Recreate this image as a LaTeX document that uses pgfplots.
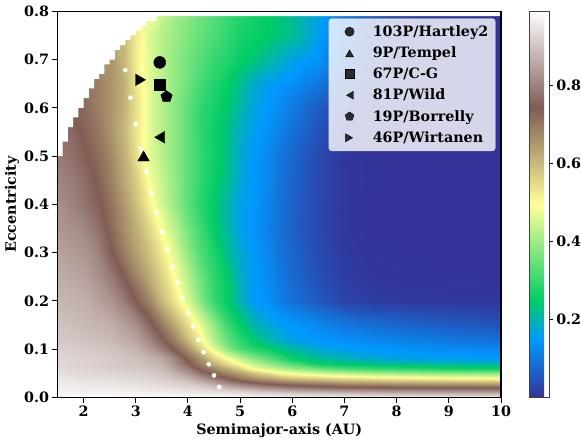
\documentclass[border=0pt]{standalone}
\usepackage{fontspec}
\setmainfont{DejaVu Serif}
\usepackage{pgfplots}
\pgfplotsset{compat=1.18}
\newcommand\lbl{\bfseries\fontsize{14.3}{16.5}\selectfont}
\pgfplotsset{cmark/.style={only marks, legend image code/.code={\path (-15.5pt,0pt) (8pt,0pt); \draw[##1] plot coordinates {(0pt,0pt)};}}}
\begin{document}
\begin{tikzpicture}
\path[use as bounding box] (-57.5pt,-45.4pt) rectangle (523.5pt,397.6pt);
\begin{axis}[
  at={(0pt,0pt)}, anchor=south west,
  scale only axis, width=443.5pt, height=386.4pt,
  xmin=1.5, xmax=10, ymin=0, ymax=0.8,
  xtick={2,3,4,5,6,7,8,9,10},
  ytick={0,0.1,0.2,0.3,0.4,0.5,0.6,0.7,0.8},
  yticklabel style={/pgf/number format/fixed,/pgf/number format/fixed zerofill,/pgf/number format/precision=1},
  every tick label/.append style={font=\lbl},
  /pgf/number format/assume math mode=true,
  tick align=outside, xtick pos=bottom, ytick pos=left,
  major tick length=5pt,
  tick style={black, line width=1pt},
  axis line style={black, line width=1.1pt},
  axis on top,
  xlabel={Semimajor-axis (AU)}, ylabel={Eccentricity},
  x label style={font=\lbl, at={(axis description cs:0.5,0)}, anchor=center, yshift=-33.5pt},
  y label style={font=\lbl, at={(axis description cs:-0.1026,0.5)}, anchor=center},
  colormap={terrain}{rgb(0cm)=(0.2,0.2,0.6); rgb(3cm)=(0,0.6,1); rgb(5cm)=(0,0.8,0.4); rgb(10cm)=(1,1,0.6); rgb(15cm)=(0.5,0.36,0.33); rgb(20cm)=(1,1,1)},
  point meta min=0, point meta max=0.99,
  colorbar,
  colorbar style={
    at={(parent axis.north east)}, anchor=north west, xshift=20.3pt,
    width=19.4pt,
    ytick={0.2,0.4,0.6,0.8},
    yticklabel style={font=\lbl,/pgf/number format/fixed,/pgf/number format/fixed zerofill,/pgf/number format/precision=1,/pgf/number format/assume math mode=true},
    tick align=outside, ytick pos=right,
    major tick length=3.5pt,
    tick style={black, line width=0.8pt},
    axis line style={black!75, line width=0.7pt},
  },
  legend style={at={(0.9876,0.9816)}, anchor=north east, fill=white, fill opacity=0.8, text opacity=1, draw=black!20, rounded corners=3pt, font=\lbl, row sep=4.9pt, inner xsep=5pt, inner ysep=5pt,
    /tikz/every odd column/.append style={column sep=13pt}},
  legend cell align=left,
  legend image post style={mark size=4.6pt},
]
\addplot[surf, shader=interp, mesh/cols=27, mesh/ordering=x varies, point meta=explicit, forget plot]
  table[row sep=\\, x index=0, y index=1, meta index=2]{
a e v\\
1.5 0 0.985\\1.75 0 0.985\\2 0 0.985\\2.25 0 0.985\\2.5 0 0.985\\2.75 0 0.985\\3 0 0.985\\3.25 0 0.985\\3.5 0 0.985\\3.75 0 0.985\\4 0 0.985\\4.25 0 0.985\\4.5 0 0.985\\4.75 0 0.985\\5 0 0.985\\5.25 0 0.983\\5.5 0 0.98\\5.75 0 0.98\\6 0 0.98\\6.5 0 0.978\\7 0 0.976\\7.5 0 0.975\\8 0 0.974\\8.5 0 0.973\\9 0 0.972\\9.5 0 0.971\\10 0 0.97\\
1.5 0.01 0.975\\1.75 0.01 0.974\\2 0.01 0.973\\2.25 0.01 0.972\\2.5 0.01 0.972\\2.75 0.01 0.971\\3 0.01 0.97\\3.25 0.01 0.968\\3.5 0.01 0.965\\3.75 0.01 0.963\\4 0.01 0.96\\4.25 0.01 0.955\\4.5 0.01 0.95\\4.75 0.01 0.945\\5 0.01 0.94\\5.25 0.01 0.933\\5.5 0.01 0.925\\5.75 0.01 0.918\\6 0.01 0.91\\6.5 0.01 0.9\\7 0.01 0.89\\7.5 0.01 0.883\\8 0.01 0.875\\8.5 0.01 0.873\\9 0.01 0.87\\9.5 0.01 0.868\\10 0.01 0.865\\
1.5 0.02 0.965\\1.75 0.02 0.963\\2 0.02 0.962\\2.25 0.02 0.96\\2.5 0.02 0.958\\2.75 0.02 0.957\\3 0.02 0.955\\3.25 0.02 0.95\\3.5 0.02 0.945\\3.75 0.02 0.94\\4 0.02 0.935\\4.25 0.02 0.923\\4.5 0.02 0.91\\4.75 0.02 0.89\\5 0.02 0.87\\5.25 0.02 0.85\\5.5 0.02 0.83\\5.75 0.02 0.815\\6 0.02 0.8\\6.5 0.02 0.785\\7 0.02 0.77\\7.5 0.02 0.765\\8 0.02 0.76\\8.5 0.02 0.758\\9 0.02 0.755\\9.5 0.02 0.753\\10 0.02 0.75\\
1.5 0.03 0.96\\1.75 0.03 0.957\\2 0.03 0.955\\2.25 0.03 0.952\\2.5 0.03 0.95\\2.75 0.03 0.947\\3 0.03 0.945\\3.25 0.03 0.938\\3.5 0.03 0.93\\3.75 0.03 0.92\\4 0.03 0.91\\4.25 0.03 0.88\\4.5 0.03 0.85\\4.75 0.03 0.815\\5 0.03 0.78\\5.25 0.03 0.755\\5.5 0.03 0.733\\5.75 0.03 0.717\\6 0.03 0.7\\6.5 0.03 0.68\\7 0.03 0.66\\7.5 0.03 0.65\\8 0.03 0.64\\8.5 0.03 0.635\\9 0.03 0.63\\9.5 0.03 0.625\\10 0.03 0.62\\
1.5 0.04 0.95\\1.75 0.04 0.947\\2 0.04 0.943\\2.25 0.04 0.94\\2.5 0.04 0.937\\2.75 0.04 0.933\\3 0.04 0.93\\3.25 0.04 0.923\\3.5 0.04 0.915\\3.75 0.04 0.895\\4 0.04 0.87\\4.25 0.04 0.83\\4.5 0.04 0.79\\4.75 0.04 0.74\\5 0.04 0.7\\5.25 0.04 0.66\\5.5 0.04 0.635\\5.75 0.04 0.61\\6 0.04 0.585\\6.5 0.04 0.562\\7 0.04 0.54\\7.5 0.04 0.527\\8 0.04 0.515\\8.5 0.04 0.507\\9 0.04 0.5\\9.5 0.04 0.495\\10 0.04 0.49\\
1.5 0.05 0.94\\1.75 0.05 0.937\\2 0.05 0.933\\2.25 0.05 0.93\\2.5 0.05 0.927\\2.75 0.05 0.923\\3 0.05 0.92\\3.25 0.05 0.91\\3.5 0.05 0.9\\3.75 0.05 0.87\\4 0.05 0.83\\4.25 0.05 0.774\\4.5 0.05 0.723\\4.75 0.05 0.68\\5 0.05 0.636\\5.25 0.05 0.592\\5.5 0.05 0.55\\5.75 0.05 0.508\\6 0.05 0.487\\6.5 0.05 0.45\\7 0.05 0.43\\7.5 0.05 0.41\\8 0.05 0.4\\8.5 0.05 0.39\\9 0.05 0.385\\9.5 0.05 0.38\\10 0.05 0.375\\
1.5 0.06 0.935\\1.75 0.06 0.93\\2 0.06 0.927\\2.25 0.06 0.923\\2.5 0.06 0.918\\2.75 0.06 0.914\\3 0.06 0.91\\3.25 0.06 0.9\\3.5 0.06 0.89\\3.75 0.06 0.845\\4 0.06 0.8\\4.25 0.06 0.73\\4.5 0.06 0.68\\4.75 0.06 0.63\\5 0.06 0.572\\5.25 0.06 0.5\\5.5 0.06 0.468\\5.75 0.06 0.436\\6 0.06 0.41\\6.5 0.06 0.366\\7 0.06 0.33\\7.5 0.06 0.315\\8 0.06 0.3\\8.5 0.06 0.29\\9 0.06 0.28\\9.5 0.06 0.275\\10 0.06 0.27\\
1.5 0.07 0.93\\1.75 0.07 0.925\\2 0.07 0.92\\2.25 0.07 0.915\\2.5 0.07 0.91\\2.75 0.07 0.905\\3 0.07 0.9\\3.25 0.07 0.888\\3.5 0.07 0.875\\3.75 0.07 0.82\\4 0.07 0.754\\4.25 0.07 0.687\\4.5 0.07 0.62\\4.75 0.07 0.553\\5 0.07 0.49\\5.25 0.07 0.44\\5.5 0.07 0.402\\5.75 0.07 0.367\\6 0.07 0.33\\6.5 0.07 0.265\\7 0.07 0.24\\7.5 0.07 0.23\\8 0.07 0.22\\8.5 0.07 0.215\\9 0.07 0.21\\9.5 0.07 0.207\\10 0.07 0.205\\
1.5 0.08 0.93\\1.75 0.08 0.925\\2 0.08 0.92\\2.25 0.08 0.915\\2.5 0.08 0.91\\2.75 0.08 0.903\\3 0.08 0.895\\3.25 0.08 0.878\\3.5 0.08 0.86\\3.75 0.08 0.81\\4 0.08 0.73\\4.25 0.08 0.66\\4.5 0.08 0.567\\4.75 0.08 0.5\\5 0.08 0.443\\5.25 0.08 0.394\\5.5 0.08 0.35\\5.75 0.08 0.305\\6 0.08 0.26\\6.5 0.08 0.22\\7 0.08 0.2\\7.5 0.08 0.182\\8 0.08 0.17\\8.5 0.08 0.165\\9 0.08 0.16\\9.5 0.08 0.158\\10 0.08 0.155\\
1.5 0.1 0.92\\1.75 0.1 0.915\\2 0.1 0.91\\2.25 0.1 0.905\\2.5 0.1 0.9\\2.75 0.1 0.888\\3 0.1 0.875\\3.25 0.1 0.841\\3.5 0.1 0.795\\3.75 0.1 0.732\\4 0.1 0.66\\4.25 0.1 0.56\\4.5 0.1 0.465\\4.75 0.1 0.388\\5 0.1 0.324\\5.25 0.1 0.285\\5.5 0.1 0.26\\5.75 0.1 0.235\\6 0.1 0.21\\6.5 0.1 0.175\\7 0.1 0.16\\7.5 0.1 0.15\\8 0.1 0.142\\8.5 0.1 0.135\\9 0.1 0.13\\9.5 0.1 0.125\\10 0.1 0.12\\
1.5 0.12 0.91\\1.75 0.12 0.904\\2 0.12 0.898\\2.25 0.12 0.891\\2.5 0.12 0.885\\2.75 0.12 0.868\\3 0.12 0.85\\3.25 0.12 0.808\\3.5 0.12 0.752\\3.75 0.12 0.684\\4 0.12 0.598\\4.25 0.12 0.507\\4.5 0.12 0.42\\4.75 0.12 0.345\\5 0.12 0.29\\5.25 0.12 0.244\\5.5 0.12 0.212\\5.75 0.12 0.185\\6 0.12 0.165\\6.5 0.12 0.145\\7 0.12 0.135\\7.5 0.12 0.125\\8 0.12 0.115\\8.5 0.12 0.108\\9 0.12 0.1\\9.5 0.12 0.095\\10 0.12 0.09\\
1.5 0.15 0.9\\1.75 0.15 0.893\\2 0.15 0.885\\2.25 0.15 0.878\\2.5 0.15 0.87\\2.75 0.15 0.845\\3 0.15 0.82\\3.25 0.15 0.763\\3.5 0.15 0.698\\3.75 0.15 0.625\\4 0.15 0.548\\4.25 0.15 0.468\\4.5 0.15 0.387\\4.75 0.15 0.308\\5 0.15 0.25\\5.25 0.15 0.205\\5.5 0.15 0.18\\5.75 0.15 0.16\\6 0.15 0.148\\6.5 0.15 0.125\\7 0.15 0.1\\7.5 0.15 0.087\\8 0.15 0.077\\8.5 0.15 0.068\\9 0.15 0.06\\9.5 0.15 0.054\\10 0.15 0.048\\
1.5 0.2 0.88\\1.75 0.2 0.875\\2 0.2 0.87\\2.25 0.2 0.85\\2.5 0.2 0.83\\2.75 0.2 0.797\\3 0.2 0.74\\3.25 0.2 0.682\\3.5 0.2 0.6\\3.75 0.2 0.529\\4 0.2 0.455\\4.25 0.2 0.376\\4.5 0.2 0.3\\4.75 0.2 0.25\\5 0.2 0.2\\5.25 0.2 0.155\\5.5 0.2 0.14\\5.75 0.2 0.113\\6 0.2 0.09\\6.5 0.2 0.055\\7 0.2 0.025\\7.5 0.2 0.014\\8 0.2 0.01\\8.5 0.2 0.008\\9 0.2 0.007\\9.5 0.2 0.006\\10 0.2 0.005\\
1.5 0.25 0.865\\1.75 0.25 0.858\\2 0.25 0.85\\2.25 0.25 0.825\\2.5 0.25 0.792\\2.75 0.25 0.745\\3 0.25 0.685\\3.25 0.25 0.625\\3.5 0.25 0.562\\3.75 0.25 0.492\\4 0.25 0.425\\4.25 0.25 0.35\\4.5 0.25 0.292\\4.75 0.25 0.248\\5 0.25 0.19\\5.25 0.25 0.153\\5.5 0.25 0.133\\5.75 0.25 0.105\\6 0.25 0.08\\6.5 0.25 0.042\\7 0.25 0.015\\7.5 0.25 0.006\\8 0.25 0.003\\8.5 0.25 0.002\\9 0.25 0.001\\9.5 0.25 0.001\\10 0.25 0\\
1.5 0.3 0.85\\1.75 0.3 0.84\\2 0.3 0.83\\2.25 0.3 0.805\\2.5 0.3 0.752\\2.75 0.3 0.694\\3 0.3 0.64\\3.25 0.3 0.59\\3.5 0.3 0.527\\3.75 0.3 0.458\\4 0.3 0.387\\4.25 0.3 0.323\\4.5 0.3 0.275\\4.75 0.3 0.22\\5 0.3 0.18\\5.25 0.3 0.15\\5.5 0.3 0.125\\5.75 0.3 0.097\\6 0.3 0.075\\6.5 0.3 0.035\\7 0.3 0.01\\7.5 0.3 0.002\\8 0.3 0.001\\8.5 0.3 0\\9 0.3 0\\9.5 0.3 0\\10 0.3 0\\
1.5 0.35 0.835\\1.75 0.35 0.823\\2 0.35 0.81\\2.25 0.35 0.78\\2.5 0.35 0.728\\2.75 0.35 0.67\\3 0.35 0.62\\3.25 0.35 0.557\\3.5 0.35 0.488\\3.75 0.35 0.427\\4 0.35 0.363\\4.25 0.35 0.305\\4.5 0.35 0.25\\4.75 0.35 0.21\\5 0.35 0.165\\5.25 0.35 0.145\\5.5 0.35 0.118\\5.75 0.35 0.09\\6 0.35 0.068\\6.5 0.35 0.03\\7 0.35 0.006\\7.5 0.35 0\\8 0.35 0\\8.5 0.35 0\\9 0.35 0\\9.5 0.35 0\\10 0.35 0\\
1.5 0.4 0.82\\1.75 0.4 0.803\\2 0.4 0.78\\2.25 0.4 0.752\\2.5 0.4 0.71\\2.75 0.4 0.655\\3 0.4 0.59\\3.25 0.4 0.515\\3.5 0.4 0.452\\3.75 0.4 0.394\\4 0.4 0.337\\4.25 0.4 0.283\\4.5 0.4 0.245\\4.75 0.4 0.205\\5 0.4 0.165\\5.25 0.4 0.148\\5.5 0.4 0.122\\5.75 0.4 0.094\\6 0.4 0.07\\6.5 0.4 0.031\\7 0.4 0.006\\7.5 0.4 0\\8 0.4 0\\8.5 0.4 0\\9 0.4 0\\9.5 0.4 0\\10 0.4 0\\
1.5 0.45 0.805\\1.75 0.45 0.793\\2 0.45 0.77\\2.25 0.45 0.735\\2.5 0.45 0.69\\2.75 0.45 0.632\\3 0.45 0.57\\3.25 0.45 0.49\\3.5 0.45 0.44\\3.75 0.45 0.39\\4 0.45 0.34\\4.25 0.45 0.293\\4.5 0.45 0.257\\4.75 0.45 0.221\\5 0.45 0.175\\5.25 0.45 0.15\\5.5 0.45 0.127\\5.75 0.45 0.097\\6 0.45 0.072\\6.5 0.45 0.032\\7 0.45 0.006\\7.5 0.45 0.001\\8 0.45 0\\8.5 0.45 0\\9 0.45 0\\9.5 0.45 0\\10 0.45 0\\
1.5 0.5 0.79\\1.75 0.5 0.775\\2 0.5 0.75\\2.25 0.5 0.72\\2.5 0.5 0.68\\2.75 0.5 0.622\\3 0.5 0.54\\3.25 0.5 0.47\\3.5 0.5 0.424\\3.75 0.5 0.384\\4 0.5 0.34\\4.25 0.5 0.294\\4.5 0.5 0.263\\4.75 0.5 0.228\\5 0.5 0.18\\5.25 0.5 0.15\\5.5 0.5 0.13\\5.75 0.5 0.1\\6 0.5 0.075\\6.5 0.5 0.033\\7 0.5 0.005\\7.5 0.5 0.001\\8 0.5 0\\8.5 0.5 0\\9 0.5 0\\9.5 0.5 0\\10 0.5 0\\
1.5 0.55 0.775\\1.75 0.55 0.765\\2 0.55 0.734\\2.25 0.55 0.702\\2.5 0.55 0.66\\2.75 0.55 0.61\\3 0.55 0.533\\3.25 0.55 0.47\\3.5 0.55 0.422\\3.75 0.55 0.383\\4 0.55 0.34\\4.25 0.55 0.29\\4.5 0.55 0.261\\4.75 0.55 0.228\\5 0.55 0.19\\5.25 0.55 0.16\\5.5 0.55 0.14\\5.75 0.55 0.115\\6 0.55 0.09\\6.5 0.55 0.045\\7 0.55 0.015\\7.5 0.55 0.005\\8 0.55 0.002\\8.5 0.55 0.001\\9 0.55 0\\9.5 0.55 0\\10 0.55 0\\
1.5 0.6 0.75\\1.75 0.6 0.74\\2 0.6 0.72\\2.25 0.6 0.693\\2.5 0.6 0.66\\2.75 0.6 0.617\\3 0.6 0.54\\3.25 0.6 0.47\\3.5 0.6 0.422\\3.75 0.6 0.383\\4 0.6 0.34\\4.25 0.6 0.29\\4.5 0.6 0.267\\4.75 0.6 0.242\\5 0.6 0.205\\5.25 0.6 0.17\\5.5 0.6 0.15\\5.75 0.6 0.13\\6 0.6 0.105\\6.5 0.6 0.06\\7 0.6 0.028\\7.5 0.6 0.012\\8 0.6 0.005\\8.5 0.6 0.002\\9 0.6 0.001\\9.5 0.6 0\\10 0.6 0\\
1.5 0.65 0.72\\1.75 0.65 0.713\\2 0.65 0.706\\2.25 0.65 0.693\\2.5 0.65 0.66\\2.75 0.65 0.618\\3 0.65 0.531\\3.25 0.65 0.469\\3.5 0.65 0.428\\3.75 0.65 0.39\\4 0.65 0.353\\4.25 0.65 0.313\\4.5 0.65 0.28\\4.75 0.65 0.255\\5 0.65 0.22\\5.25 0.65 0.185\\5.5 0.65 0.16\\5.75 0.65 0.148\\6 0.65 0.135\\6.5 0.65 0.1\\7 0.65 0.05\\7.5 0.65 0.02\\8 0.65 0.008\\8.5 0.65 0.004\\9 0.65 0.002\\9.5 0.65 0.001\\10 0.65 0\\
1.5 0.7 0.68\\1.75 0.7 0.675\\2 0.7 0.67\\2.25 0.7 0.665\\2.5 0.7 0.66\\2.75 0.7 0.61\\3 0.7 0.518\\3.25 0.7 0.466\\3.5 0.7 0.427\\3.75 0.7 0.393\\4 0.7 0.36\\4.25 0.7 0.33\\4.5 0.7 0.3\\4.75 0.7 0.28\\5 0.7 0.255\\5.25 0.7 0.235\\5.5 0.7 0.215\\5.75 0.7 0.19\\6 0.7 0.165\\6.5 0.7 0.14\\7 0.7 0.075\\7.5 0.7 0.03\\8 0.7 0.011\\8.5 0.7 0.006\\9 0.7 0.002\\9.5 0.7 0.001\\10 0.7 0.001\\
1.5 0.75 0.62\\1.75 0.75 0.62\\2 0.75 0.62\\2.25 0.75 0.62\\2.5 0.75 0.62\\2.75 0.75 0.61\\3 0.75 0.525\\3.25 0.75 0.46\\3.5 0.75 0.424\\3.75 0.75 0.397\\4 0.75 0.37\\4.25 0.75 0.345\\4.5 0.75 0.32\\4.75 0.75 0.295\\5 0.75 0.27\\5.25 0.75 0.26\\5.5 0.75 0.25\\5.75 0.75 0.235\\6 0.75 0.22\\6.5 0.75 0.16\\7 0.75 0.091\\7.5 0.75 0.044\\8 0.75 0.018\\8.5 0.75 0.01\\9 0.75 0.004\\9.5 0.75 0.002\\10 0.75 0.001\\
1.5 0.8 0.55\\1.75 0.8 0.55\\2 0.8 0.55\\2.25 0.8 0.55\\2.5 0.8 0.55\\2.75 0.8 0.55\\3 0.8 0.52\\3.25 0.8 0.49\\3.5 0.8 0.44\\3.75 0.8 0.405\\4 0.8 0.38\\4.25 0.8 0.355\\4.5 0.8 0.33\\4.75 0.8 0.305\\5 0.8 0.28\\5.25 0.8 0.265\\5.5 0.8 0.25\\5.75 0.8 0.235\\6 0.8 0.22\\6.5 0.8 0.17\\7 0.8 0.105\\7.5 0.8 0.055\\8 0.8 0.026\\8.5 0.8 0.015\\9 0.8 0.006\\9.5 0.8 0.003\\10 0.8 0.001\\
};
\addplot[fill=white, draw=none, forget plot] coordinates {
(1.5,0.50) (1.6,0.50) (1.6,0.53) (1.7,0.53) (1.7,0.56) (1.8,0.56) (1.8,0.58) (1.9,0.58)
(1.9,0.60) (2.0,0.60) (2.0,0.62) (2.1,0.62) (2.1,0.64) (2.2,0.64) (2.2,0.66) (2.3,0.66)
(2.3,0.67) (2.4,0.67) (2.4,0.69) (2.5,0.69) (2.5,0.70) (2.6,0.70) (2.6,0.72) (2.7,0.72)
(2.7,0.73) (2.8,0.73) (2.8,0.74) (2.9,0.74) (2.9,0.75) (3.0,0.75) (3.0,0.76) (3.1,0.76)
(3.1,0.77) (3.2,0.77) (3.2,0.78) (3.4,0.78) (3.4,0.79) (10,0.79) (10,0.8) (1.5,0.8)};
\addplot[only marks, mark=*, mark size=2.1pt, color=white, forget plot] coordinates {
(2.8,0.678) (2.9,0.621) (3.0,0.566) (3.1,0.516) (3.2,0.468) (3.3,0.424) (3.4,0.383)
(3.5,0.343) (3.6,0.306) (3.7,0.271) (3.8,0.238) (3.9,0.206) (4.0,0.176) (4.1,0.147)
(4.2,0.119) (4.3,0.094) (4.4,0.069) (4.5,0.046) (4.6,0.022)};
\addplot[cmark, mark=*, mark size=6pt, black] coordinates {(3.46,0.694)};
\addlegendentry{103P/Hartley2}
\addplot[cmark, mark=triangle*, mark size=6.7pt, black, mark options={yshift=-1.6pt}] coordinates {(3.15,0.50)};
\addlegendentry{9P/Tempel}
\addplot[cmark, mark=square*, mark size=5.5pt, black] coordinates {(3.46,0.647)};
\addlegendentry{67P/C-G}
\addplot[cmark, mark=triangle*, mark size=6.7pt, black, mark options={xshift=1.6pt, rotate=90}] coordinates {(3.46,0.539)};
\addlegendentry{81P/Wild}
\addplot[cmark, mark=pentagon*, mark size=6pt, black] coordinates {(3.59,0.623)};
\addlegendentry{19P/Borrelly}
\addplot[cmark, mark=triangle*, mark size=6.7pt, black, mark options={xshift=-1.6pt, rotate=-90}] coordinates {(3.09,0.658)};
\addlegendentry{46P/Wirtanen}
\end{axis}
\end{tikzpicture}
\end{document}
